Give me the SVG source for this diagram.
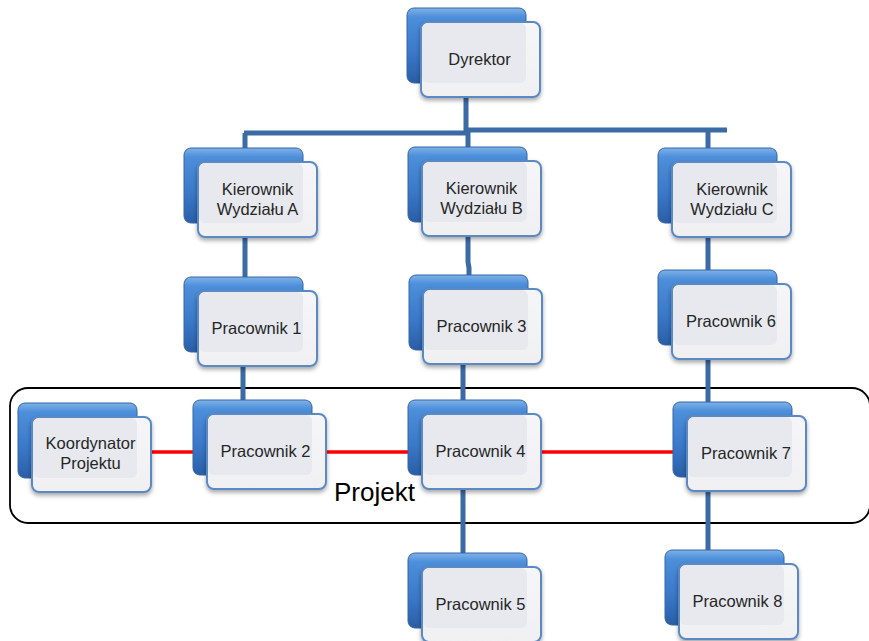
<svg xmlns="http://www.w3.org/2000/svg" xmlns:xlink="http://www.w3.org/1999/xlink" width="869" height="641" viewBox="0 0 869 641">
  <style>
    .lbl { font-family: "Liberation Sans", Arial, sans-serif; font-size: 16.5px; fill: #262626; text-anchor: middle; }
    .conn { stroke: #3b6aa5; stroke-width: 5; fill: none; }
    .link { stroke: #ff0000; stroke-width: 3.5; fill: none; }
    .group { fill: none; stroke: #000; stroke-width: 1.8; }
    .title { font-family: "Liberation Sans", Arial, sans-serif; font-size: 26px; fill: #000; }
  </style>
  <defs>
    <linearGradient id="blueBack" x1="0" y1="0" x2="0" y2="1">
      <stop offset="0" stop-color="#7fb2e8"/>
      <stop offset="0.12" stop-color="#4d8fda"/>
      <stop offset="0.6" stop-color="#3a78c8"/>
      <stop offset="1" stop-color="#2a5ea6"/>
    </linearGradient>
    <linearGradient id="frontFill" x1="0" y1="0" x2="0" y2="1">
      <stop offset="0" stop-color="#f6f6f8"/>
      <stop offset="1" stop-color="#f0f0f3"/>
    </linearGradient>
    <filter id="shadow" x="-20%" y="-20%" width="140%" height="150%">
      <feDropShadow dx="0" dy="2.5" stdDeviation="2.2" flood-color="#000" flood-opacity="0.35"/>
    </filter>
    <!-- stacked card: blue back plate with a light front plate -->
    <g id="card">
      <rect x="0" y="0" width="119" height="75" rx="7" fill="url(#blueBack)" stroke="#3465a6" stroke-width="1"/>
      <rect x="14" y="14" width="119" height="75" rx="7" fill="url(#frontFill)" stroke="#5a89c3" stroke-width="2" filter="url(#shadow)"/>
      <rect x="15" y="15" width="104" height="60" rx="6" fill="#e7e9ef"/>
    </g>
  </defs>

  <rect width="869" height="641" fill="#ffffff"/>

  <!-- project frame -->
  <rect class="group" x="10" y="388" width="860" height="135" rx="18"/>
  <text class="title" x="334" y="501">Projekt</text>

  <g id="connectors">
    <path class="conn" d="M466 97 V133 M466 133 H244 M466 130 H727"/>
    <path class="conn" d="M245 133 V162 M245 236 V278 M243 366 V401"/>
    <path class="conn" d="M468 130 V148 M468 235 V262 L469 268 V276 M463 364 V401 M463 489 V554"/>
    <path class="conn" d="M708 130 V149 M708 237 V271 M708 358 V403 M708 490 V551"/>
    <path class="link" d="M150 452 H194 M327 452 H409 M542 452 H674"/>
  </g>

  <g id="n-dyrektor" transform="translate(407,8)">
    <use xlink:href="#card"/>
    <text class="lbl" x="72.5" y="57">Dyrektor</text>
  </g>
  <g id="n-kier-a" transform="translate(184,148)">
    <use xlink:href="#card"/>
    <text class="lbl" x="73.5" y="47">Kierownik</text>
    <text class="lbl" x="73.5" y="67">Wydziału A</text>
  </g>
  <g id="n-kier-b" transform="translate(408,147)">
    <use xlink:href="#card"/>
    <text class="lbl" x="73.5" y="47">Kierownik</text>
    <text class="lbl" x="73.5" y="67">Wydziału B</text>
  </g>
  <g id="n-kier-c" transform="translate(658,148)">
    <use xlink:href="#card"/>
    <text class="lbl" x="74" y="47">Kierownik</text>
    <text class="lbl" x="74" y="67">Wydziału C</text>
  </g>
  <g id="n-prac-1" transform="translate(184,277)">
    <use xlink:href="#card"/>
    <text class="lbl" x="72.5" y="57">Pracownik 1</text>
  </g>
  <g id="n-prac-3" transform="translate(409,275)">
    <use xlink:href="#card"/>
    <text class="lbl" x="72.5" y="57">Pracownik 3</text>
  </g>
  <g id="n-prac-6" transform="translate(658,270)">
    <use xlink:href="#card"/>
    <text class="lbl" x="73" y="57">Pracownik 6</text>
  </g>
  <g id="n-koord" transform="translate(18,403)">
    <use xlink:href="#card"/>
    <text class="lbl" x="72.5" y="46">Koordynator</text>
    <text class="lbl" x="72.5" y="66">Projektu</text>
  </g>
  <g id="n-prac-2" transform="translate(193,400)">
    <use xlink:href="#card"/>
    <text class="lbl" x="72.5" y="57">Pracownik 2</text>
  </g>
  <g id="n-prac-4" transform="translate(408,400)">
    <use xlink:href="#card"/>
    <text class="lbl" x="72.5" y="57">Pracownik 4</text>
  </g>
  <g id="n-prac-7" transform="translate(673,402)">
    <use xlink:href="#card"/>
    <text class="lbl" x="73" y="57">Pracownik 7</text>
  </g>
  <g id="n-prac-5" transform="translate(408,553)">
    <use xlink:href="#card"/>
    <text class="lbl" x="72.5" y="57">Pracownik 5</text>
  </g>
  <g id="n-prac-8" transform="translate(665,550)">
    <use xlink:href="#card"/>
    <text class="lbl" x="72.5" y="57">Pracownik 8</text>
  </g>
</svg>
